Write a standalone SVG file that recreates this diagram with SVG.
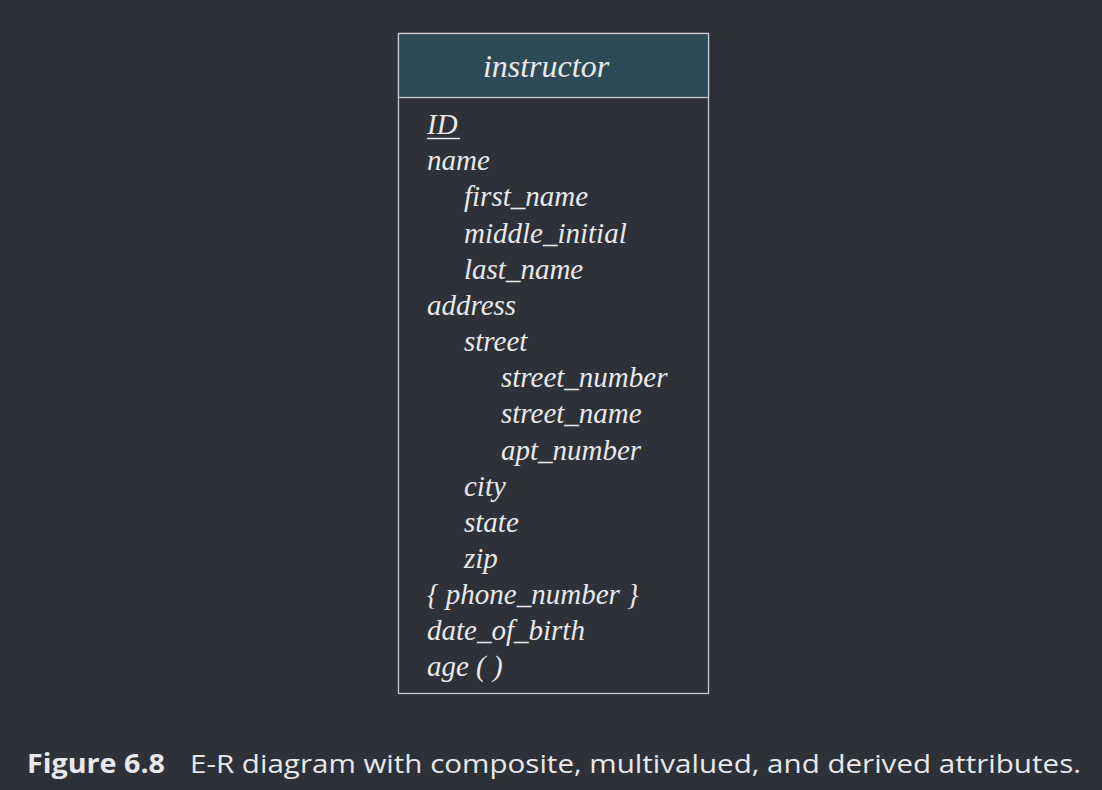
<svg xmlns="http://www.w3.org/2000/svg" width="1102" height="790" viewBox="0 0 1102 790">
<style>
.a{font-family:"Liberation Serif","Times New Roman",serif;font-style:italic;font-size:29px;fill:#e8e8ea}
.h{font-family:"Liberation Serif","Times New Roman",serif;font-style:italic;font-size:32px;fill:#e8e8ea}
.cap{font-family:"Open Sans",Lato,sans-serif;font-size:26px;fill:#e8e8ea}
</style>
<rect width="1102" height="790" fill="#2e3138"/>
<g id="instructor">
<rect x="398.5" y="33.5" width="310" height="660" fill="#2e3138" stroke="#c8c8cc" stroke-width="1.3"/>
<rect x="398.5" y="33.5" width="310" height="64" fill="#2e4a57" stroke="#c8c8cc" stroke-width="1.3"/>
<text class="h" x="546" y="77" text-anchor="middle">instructor</text>
<text class="a" x="427" y="134">ID</text>
<line x1="427" y1="138.5" x2="460" y2="138.5" stroke="#e8e8ea" stroke-width="1.3"/>
<text class="a" x="427" y="170">name</text>
<text class="a" x="464" y="206">first_name</text>
<text class="a" x="464" y="243">middle_initial</text>
<text class="a" x="464" y="279">last_name</text>
<text class="a" x="427" y="315">address</text>
<text class="a" x="464" y="351">street</text>
<text class="a" x="501" y="387">street_number</text>
<text class="a" x="501" y="423">street_name</text>
<text class="a" x="501" y="460">apt_number</text>
<text class="a" x="464" y="496">city</text>
<text class="a" x="464" y="532">state</text>
<text class="a" x="464" y="568">zip</text>
<text class="a" x="427" y="604">{ phone_number }</text>
<text class="a" x="427" y="640">date_of_birth</text>
<text class="a" x="427" y="676">age ( )</text>
</g>
<g id="connectors"/>
<text class="cap" x="27" y="773" font-weight="bold" textLength="138" lengthAdjust="spacingAndGlyphs">Figure 6.8</text>
<text class="cap" x="190" y="773" textLength="891" lengthAdjust="spacingAndGlyphs">E-R diagram with composite, multivalued, and derived attributes.</text>
</svg>
